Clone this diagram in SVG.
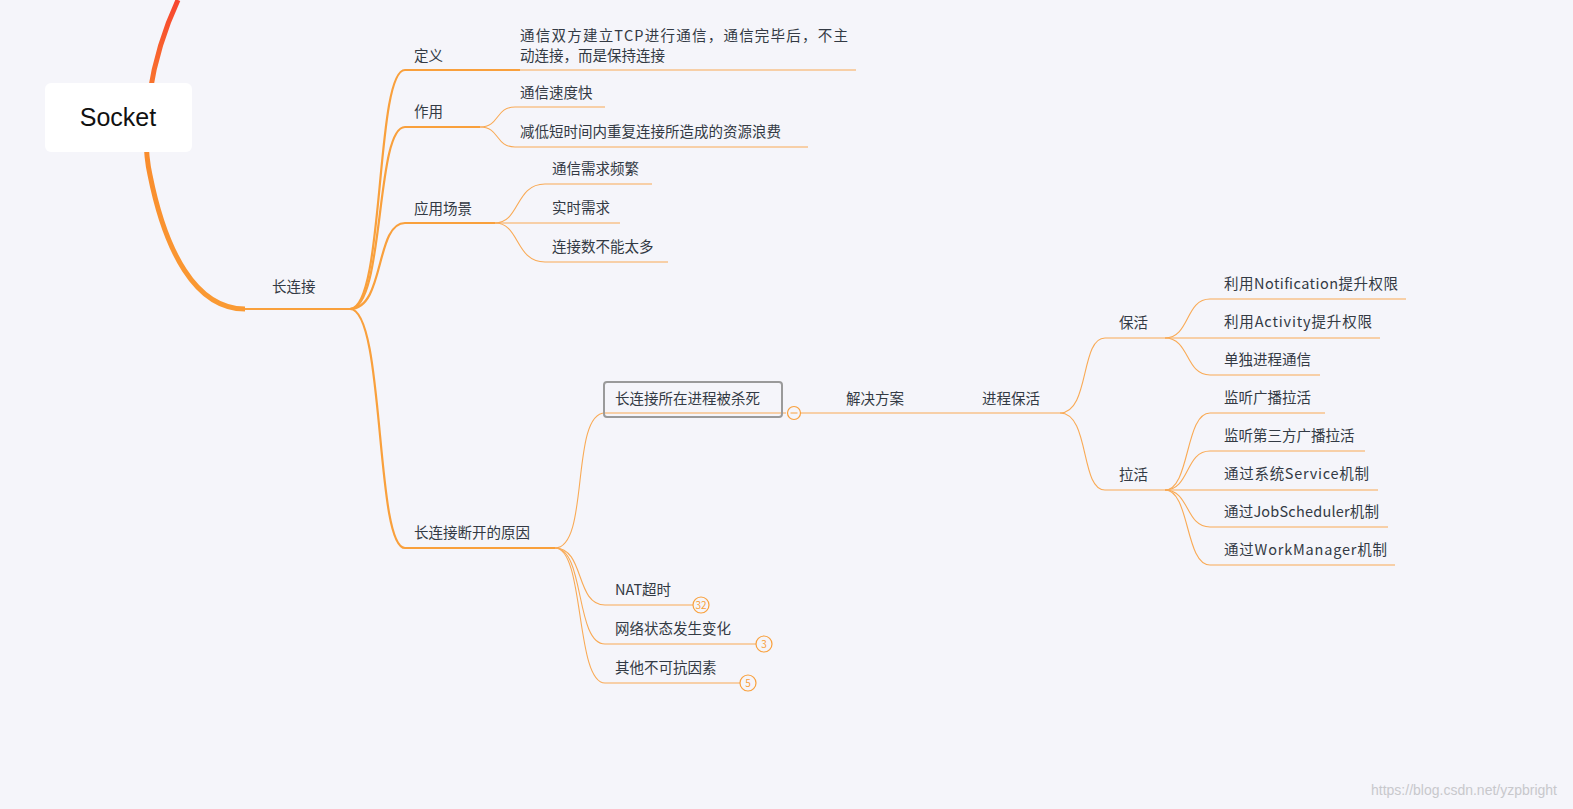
<svg xmlns="http://www.w3.org/2000/svg" width="1573" height="809" viewBox="0 0 1573 809">
<defs>
<linearGradient id="rg" x1="0" y1="0" x2="0" y2="1"><stop offset="0" stop-color="#f7452f"/><stop offset="0.4" stop-color="#f98a2c"/><stop offset="1" stop-color="#fa9a33"/></linearGradient>
<style>
text{font-family:"Noto Sans CJK SC","Liberation Sans",sans-serif;font-size:14.5px;fill:#333a44}
.l1{fill:none;stroke:#f9a03c;stroke-width:2.2}
.l3{fill:none;stroke:#f9aa55;stroke-width:1.1}
.b{fill:#f5f5fa;stroke:#f9a03c;stroke-width:1.2}
.bt{font-size:10px;fill:#f9a03c;text-anchor:middle}
</style>
</defs>
<rect width="1573" height="809" fill="#f5f5fa"/>
<g id="connectors">
<path d="M178,0 C150,60 140,130 150,175 C165,250 195,309 245,309" fill="none" stroke="url(#rg)" stroke-width="5"/>
<path class="l1" d="M245,309 H350"/>
<path class="l1" d="M350,309 C385,309 375,70 405,70 H520"/>
<path class="l3" d="M520,70 H856"/>
<path class="l1" d="M350,309 C385,309 375,127 405,127 H480"/>
<path class="l1" d="M350,309 C385,309 375,223 405,223 H495"/>
<path class="l1" d="M350,309 C385,309 375,548 405,548 H555"/>
<path class="l3" d="M480,127 C500,127 495,107 515,107 H605"/>
<path class="l3" d="M480,127 C500,127 495,147 515,147 H808"/>
<path class="l3" d="M495,223 C520,223 515,184 545,184 H652"/>
<path class="l3" d="M495,223 H620"/>
<path class="l3" d="M495,223 C520,223 515,262 545,262 H668"/>
<path class="l3" d="M555,548 C590,548 570,413 605,413 H786"/>
<path class="l3" d="M555,548 C585,548 575,605 605,605 H693"/>
<path class="l3" d="M555,548 C585,548 575,644 605,644 H756"/>
<path class="l3" d="M555,548 C585,548 575,683 605,683 H740"/>
<path class="l3" d="M800,413 H1060"/>
<path class="l3" d="M1060,413 C1090,413 1080,338 1105,338 H1165"/>
<path class="l3" d="M1060,413 C1090,413 1080,490 1105,490 H1165"/>
<path class="l3" d="M1165,338 C1190,338 1185,299 1210,299 H1406"/>
<path class="l3" d="M1165,338 H1380"/>
<path class="l3" d="M1165,338 C1190,338 1185,375 1210,375 H1320"/>
<path class="l3" d="M1165,490 C1190,490 1185,413 1210,413 H1325"/>
<path class="l3" d="M1165,490 C1190,490 1185,451 1210,451 H1365"/>
<path class="l3" d="M1165,490 H1378"/>
<path class="l3" d="M1165,490 C1190,490 1185,527 1210,527 H1388"/>
<path class="l3" d="M1165,490 C1190,490 1185,565 1210,565 H1395"/>
</g>
<g id="root"><rect x="45" y="83" width="147" height="69" rx="6" fill="#fff"/><text x="118" y="126" text-anchor="middle" style="font-family:'Liberation Sans',sans-serif;font-size:25px;fill:#111">Socket</text></g>
<g id="n-long"><text x="272" y="292">长连接</text></g>
<g id="n-def"><text x="414" y="61">定义</text></g>
<g id="n-def1"><text x="520" y="41" textLength="328">通信双方建立TCP进行通信，通信完毕后，不主</text><text x="520" y="61">动连接，而是保持连接</text></g>
<g id="n-use"><text x="414" y="117">作用</text></g>
<g id="n-use1"><text x="520" y="98">通信速度快</text></g>
<g id="n-use2"><text x="520" y="137">减低短时间内重复连接所造成的资源浪费</text></g>
<g id="n-scene"><text x="414" y="214">应用场景</text></g>
<g id="n-s1"><text x="552" y="174">通信需求频繁</text></g>
<g id="n-s2"><text x="552" y="213">实时需求</text></g>
<g id="n-s3"><text x="552" y="252">连接数不能太多</text></g>
<g id="n-reason"><text x="414" y="538">长连接断开的原因</text></g>
<g id="n-killed"><rect x="604" y="382" width="178" height="35" rx="3" fill="none" stroke="#9a9a9a" stroke-width="2"/><text x="615" y="404">长连接所在进程被杀死</text><circle cx="794" cy="413" r="6.5" class="b"/><path d="M790.5,413 H797.5" stroke="#f9a03c" stroke-width="1"/></g>
<g id="n-sol"><text x="846" y="404">解决方案</text></g>
<g id="n-keep"><text x="982" y="404">进程保活</text></g>
<g id="n-bh"><text x="1119" y="328">保活</text></g>
<g id="n-bh1"><text x="1224" y="289" textLength="174">利用Notification提升权限</text></g>
<g id="n-bh2"><text x="1224" y="327" textLength="148">利用Activity提升权限</text></g>
<g id="n-bh3"><text x="1224" y="365">单独进程通信</text></g>
<g id="n-lh"><text x="1119" y="480">拉活</text></g>
<g id="n-lh1"><text x="1224" y="403">监听广播拉活</text></g>
<g id="n-lh2"><text x="1224" y="441">监听第三方广播拉活</text></g>
<g id="n-lh3"><text x="1224" y="479" textLength="145">通过系统Service机制</text></g>
<g id="n-lh4"><text x="1224" y="517" textLength="155">通过JobScheduler机制</text></g>
<g id="n-lh5"><text x="1224" y="555" textLength="163">通过WorkManager机制</text></g>
<g id="n-nat"><text x="615" y="595">NAT超时</text><circle cx="701" cy="605" r="8" class="b"/><text x="701" y="608.5" class="bt">32</text></g>
<g id="n-net"><text x="615" y="634">网络状态发生变化</text><circle cx="764" cy="644" r="8" class="b"/><text x="764" y="647.5" class="bt">3</text></g>
<g id="n-other"><text x="615" y="673">其他不可抗因素</text><circle cx="748" cy="683" r="8" class="b"/><text x="748" y="686.5" class="bt">5</text></g>
<text x="1557" y="795" text-anchor="end" style="font-family:'Liberation Sans',sans-serif;font-size:14px;fill:#c8c8cc">https://blog.csdn.net/yzpbright</text>
</svg>
